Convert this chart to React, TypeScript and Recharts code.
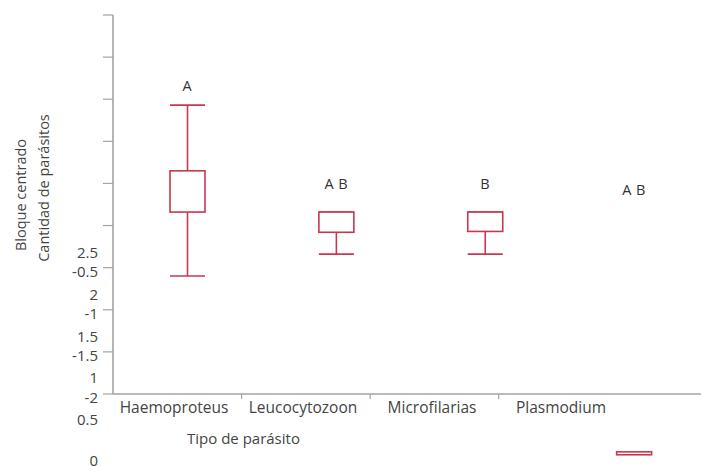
import React from 'react';
import { ComposedChart, Bar, Scatter, XAxis, YAxis } from 'recharts';

const categories = ['Haemoproteus', 'Leucocytozoon', 'Microfilarias', 'Plasmodium'];
const whiskerLow: (number | null)[] = [-0.6, -0.34, -0.34, null];
const boxLow: (number | null)[] = [0.16, -0.08, -0.07, null];
const boxHigh: (number | null)[] = [0.65, 0.16, 0.16, null];
const whiskerHigh: (number | null)[] = [1.43, 0.16, 0.16, null];
const letters = ['A', 'A B', 'B', 'A B'];
const letterY = [1.66, 0.5, 0.5, 0.42];
// second ("Bloque centrado") scale
const blockLow: (number | null)[] = [null, null, null, 0.075];
const blockHigh: (number | null)[] = [null, null, null, 0.11];

const mainTicks = [-2, -1.5, -1, -0.5, 0, 0.5, 1, 1.5, 2, 2.5];
const blockTicks = [0, 0.5, 1, 1.5, 2, 2.5];

const rows = categories.map((name, i) => ({
  name,
  wl: whiskerLow[i],
  bl: boxLow[i],
  bh: boxHigh[i],
  wh: whiskerHigh[i],
  letter: letters[i],
  ly: letterY[i],
  kl: blockLow[i],
  kh: blockHigh[i],
}));

const RED = '#c8374e';
const GRAY = '#a3a3a3';
const TEXT = '#444';
const FONT = '"Open Sans", sans-serif';
const W = 720;
const H = 466;
const AX_H = 0.01;

const BoxShape = (p: any) => {
  const { x, y, width, height } = p;
  if (x == null || y == null || !isFinite(height)) return <g />;
  const top = Math.min(y, y + height);
  const h = Math.max(Math.abs(height), 1);
  return <rect x={x} y={top} width={width} height={h} fill="#fff" stroke={RED} strokeWidth={1.6} />;
};

const WhiskerShape = (p: any) => {
  const { x, y, width, height } = p;
  if (x == null || y == null || !isFinite(height)) return <g />;
  const top = Math.min(y, y + height);
  const bot = Math.max(y, y + height);
  const cx = x + width / 2;
  return (
    <g stroke={RED} strokeWidth={1.6}>
      <line x1={cx} x2={cx} y1={top} y2={bot} />
      <line x1={x} x2={x + width} y1={top} y2={top} />
      <line x1={x} x2={x + width} y1={bot} y2={bot} />
    </g>
  );
};

const LetterShape = (p: any) => {
  const { cx, cy, payload } = p;
  return (
    <text
      x={cx}
      y={cy}
      dy="0.35em"
      textAnchor="middle"
      fill="#333"
      fontSize={14.5}
      fontFamily={FONT}
      style={{ whiteSpace: 'pre' }}
      letterSpacing={0.5}
    >
      {payload.letter}
    </text>
  );
};

// tick marks sitting on the boundaries between categories (last one omitted)
const BoundaryTick = (p: any) => {
  const { x, y, index } = p;
  if (index >= categories.length - 1) return <g />;
  return <line x1={x} x2={x} y1={y} y2={y + 5} stroke={GRAY} strokeWidth={1.2} />;
};

const rangeW = (d: any) => (d.wl == null ? null : [d.wl, d.wh]);
const rangeB = (d: any) => (d.bl == null ? null : [d.bl, d.bh]);
const rangeK = (d: any) => (d.kl == null ? null : [d.kl, d.kh]);

const tickStyle = { fill: TEXT, fontSize: 15, fontFamily: FONT };

export default function App() {
  return (
    <div
      style={{
        position: 'relative',
        width: 701,
        height: H,
        overflow: 'hidden',
        fontFamily: FONT,
      }}
    >
      <style>{'html,body{margin:0;padding:0;overflow:hidden;}'}</style>
      <div style={{ position: 'absolute', left: 0, top: 0 }}>
        <ComposedChart width={W} height={H} data={rows} margin={{ top: 15, right: 11.5, bottom: 72, left: 53 }}>
          <XAxis xAxisId="w" dataKey="name" type="category" hide />
          <XAxis
            xAxisId="b"
            dataKey="name"
            type="category"
            height={AX_H}
            tick={false}
            tickLine={false}
            axisLine={{ stroke: GRAY, strokeWidth: 1.6 }}
          />
          <XAxis
            xAxisId="lab"
            dataKey="name"
            type="category"
            height={AX_H}
            padding={{ left: -3.5, right: 83 }}
            axisLine={false}
            tickLine={false}
            tick={{ ...tickStyle, fontSize: 15.5 }}
            interval={0}
          />
          <XAxis
            xAxisId="tk"
            dataKey="name"
            type="category"
            height={AX_H}
            padding={{ left: 64.3, right: 17 }}
            axisLine={false}
            tickLine={false}
            tickSize={0}
            tickMargin={0}
            interval={0}
            tick={<BoundaryTick />}
          />
          <YAxis
            yAxisId="main"
            type="number"
            domain={[-2, 2.5]}
            ticks={mainTicks}
            interval={0}
            width={60}
            tickSize={10}
            tickMargin={5}
            axisLine={{ stroke: GRAY, strokeWidth: 1.6 }}
            tickLine={{ stroke: GRAY, strokeWidth: 1.2 }}
            tick={{ ...tickStyle, dy: 4 }}
            tickFormatter={(v: number) => (v < 0 ? String(v) : '')}
          />
          <Bar
            xAxisId="w"
            yAxisId="main"
            dataKey={rangeW}
            barSize={35}
            shape={WhiskerShape}
            isAnimationActive={false}
          />
          <Bar
            xAxisId="b"
            yAxisId="main"
            dataKey={rangeB}
            barSize={35}
            shape={BoxShape}
            isAnimationActive={false}
          />
          <Scatter xAxisId="b" yAxisId="main" dataKey="ly" shape={LetterShape} isAnimationActive={false} />
        </ComposedChart>
      </div>
      <div style={{ position: 'absolute', left: 0, top: 0 }}>
        <ComposedChart width={W} height={H} data={rows} margin={{ top: 253, right: 11.5, bottom: 5, left: 53 }}>
          <XAxis xAxisId="k" dataKey="name" type="category" hide />
          <YAxis
            yAxisId="block"
            type="number"
            domain={[0, 2.5]}
            ticks={blockTicks}
            interval={0}
            width={60}
            tickSize={10}
            tickMargin={5}
            axisLine={false}
            tickLine={false}
            tick={tickStyle}
          />
          <Bar
            xAxisId="k"
            yAxisId="block"
            dataKey={rangeK}
            barSize={35}
            shape={BoxShape}
            isAnimationActive={false}
          />
        </ComposedChart>
      </div>
      <div
        style={{
          position: 'absolute',
          left: 20,
          top: 195,
          transform: 'translate(-50%, -50%) rotate(-90deg)',
          whiteSpace: 'nowrap',
          fontSize: 14.5,
          color: TEXT,
        }}
      >
        Bloque centrado
      </div>
      <div
        style={{
          position: 'absolute',
          left: 43,
          top: 188,
          transform: 'translate(-50%, -50%) rotate(-90deg)',
          whiteSpace: 'nowrap',
          fontSize: 14.5,
          color: TEXT,
        }}
      >
        Cantidad de parásitos
      </div>
      <div
        style={{
          position: 'absolute',
          left: 187,
          top: 428,
          lineHeight: '20px',
          whiteSpace: 'nowrap',
          fontSize: 15,
          color: TEXT,
        }}
      >
        Tipo de parásito
      </div>
    </div>
  );
}
